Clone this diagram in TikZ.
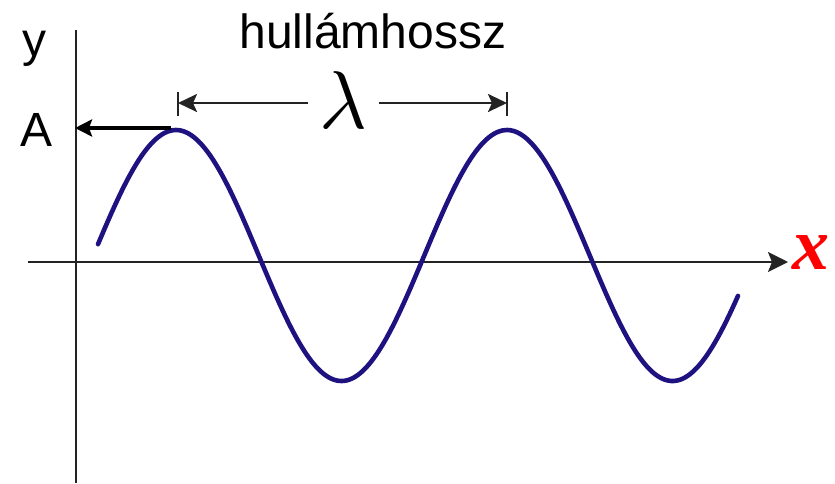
\documentclass[tikz,border=0pt]{standalone}
\usepackage{fontspec}
\usepackage{graphicx}
\setmainfont{Liberation Sans}
\newfontfamily\serifont{Liberation Serif}
\usetikzlibrary{arrows.meta}
\definecolor{wave}{RGB}{30,18,128}
\definecolor{axisgray}{RGB}{35,35,35}
\definecolor{xred}{RGB}{255,0,0}
\tikzset{
  axisline/.style={draw=axisgray, line width=2.3pt},
  dimline/.style={draw=axisgray, line width=2.6pt},
  dimtip/.style={-{Stealth[length=19pt,width=18pt,inset=4pt]}},
  lbl/.style={inner sep=0pt, font=\fontsize{48}{52}\selectfont},
}
\begin{document}
\begin{tikzpicture}[x=1pt,y=-1pt]
\useasboundingbox (0,0) rectangle (835,483);
% axes
\coordinate (ytop) at (76,30);
\coordinate (ybot) at (76,483);
\coordinate (xl) at (28,262);
\coordinate (xr) at (788,262);
\draw[axisline] (ytop) -- (ybot);
\draw[axisline,-{Stealth[length=20pt,width=20pt,inset=4pt]}] (xl) -- (xr);
% wave
\draw[wave, line width=4.6pt, line cap=round]
  plot[domain=98:738, samples=240, smooth] (\x,{255.5-125.5*cos((\x-176)/331*360)});
% labels
\node[lbl] (ylab) at (34,49) {y};
\node[lbl] (alab) at (37,130) {A};
\node[lbl] (title) at (373,31) {hullámhossz};
\node[inner sep=0pt] (lam) at (343,100) {\scalebox{8.2}{$\lambda$}};
\node[inner sep=0pt, text=xred, font=\serifont\bfseries\itshape\fontsize{74}{74}\selectfont] (xlab) at (811,253) {x};
% amplitude arrow
\coordinate (peak1) at (171,128);
\coordinate (ya) at (75,128);
\draw[black, line width=4.4pt, -{Stealth[length=17pt,width=17pt,inset=3pt]}] (peak1) -- (ya);
% wavelength dimension
\coordinate (dl) at (178,103);
\coordinate (dr) at (507,103);
\draw[dimline] (178,92) -- (178,116);
\draw[dimline] (507,92) -- (507,116);
\draw[dimline,dimtip] (308,103) -- (dl);
\draw[dimline,dimtip] (379,103) -- (dr);
\end{tikzpicture}
\end{document}
